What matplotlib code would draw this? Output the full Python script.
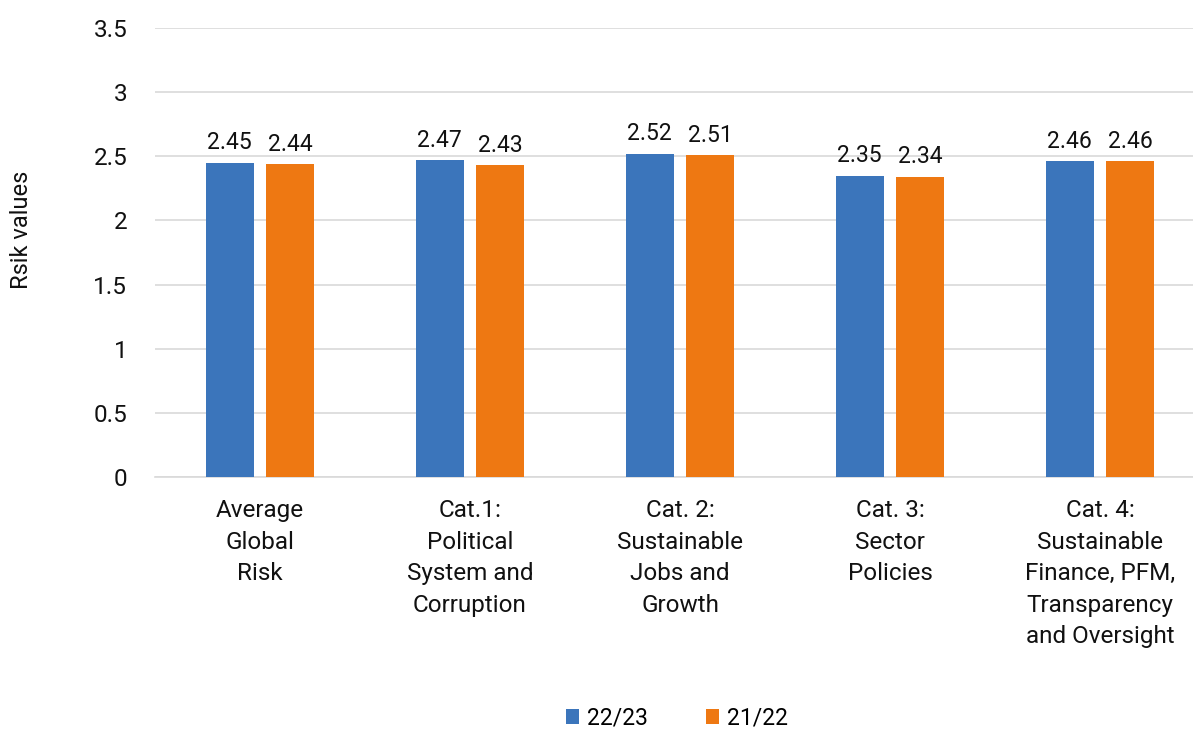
import matplotlib.pyplot as plt
import numpy as np

plt.rcParams["font.family"] = ["Roboto", "DejaVu Sans"]

categories = [
    "Average\nGlobal\nRisk",
    "Cat.1:\nPolitical\nSystem and\nCorruption",
    "Cat. 2:\nSustainable\nJobs and\nGrowth",
    "Cat. 3:\nSector\nPolicies",
    "Cat. 4:\nSustainable\nFinance, PFM,\nTransparency\nand Oversight",
]
series_names = ["22/23", "21/22"]
risk_2223 = [2.45, 2.47, 2.52, 2.35, 2.46]
risk_2122 = [2.44, 2.43, 2.51, 2.34, 2.46]
colors = ["#3B75BB", "#EE7812"]

W, H = 1193, 731
fig = plt.figure(figsize=(W / 100, H / 100), dpi=100)
# plot area runs slightly past the right edge of the canvas
ax = fig.add_axes([155 / W, 1 - 477 / H, 1050 / W, (477 - 28) / H])

x = np.arange(len(categories))
bw = 0.229
off = 0.145
for vals, dx, c, name in [(risk_2223, -off, colors[0], series_names[0]),
                          (risk_2122, off, colors[1], series_names[1])]:
    bars = ax.bar(x + dx, vals, width=bw, color=c, label=name, zorder=3)
    for b, v in zip(bars, vals):
        ax.annotate(f"{v:.2f}", (b.get_x() + b.get_width() / 2, v),
                    xytext=(0, 6), textcoords="offset points",
                    ha="center", va="bottom", fontsize=16.5, color="#111")

ax.set_xlim(-0.5, len(categories) - 0.5)
ax.set_ylim(0, 3.5)
ax.set_yticks(np.arange(0, 3.51, 0.5))
ax.set_yticklabels(["0", "0.5", "1", "1.5", "2", "2.5", "3", "3.5"])
ax.set_xticks(x)
ax.set_xticklabels(categories, linespacing=1.47)
ax.tick_params(axis="y", length=0, pad=20, labelsize=17.5, labelcolor="#111")
ax.tick_params(axis="x", length=0, pad=16, labelsize=17.5, labelcolor="#111")
ax.grid(axis="y", color="#d9d9d9", linewidth=1.2, zorder=0)
for s in ["top", "right", "left"]:
    ax.spines[s].set_visible(False)
ax.spines["bottom"].set_color("#d9d9d9")
ax.spines["bottom"].set_linewidth(1.2)

fig.text(22 / W, 1 - 230 / H, "Rsik values", rotation=90, ha="center",
         va="center", fontsize=17, color="#111")

fig.legend(loc="center", bbox_to_anchor=(677 / W, 1 - 718 / H), ncol=2,
           frameon=False, fontsize=16.5, handlelength=0.6, handleheight=0.6,
           handletextpad=0.35, columnspacing=2.5, borderpad=0.1)

fig.savefig("out.png", dpi=100)
